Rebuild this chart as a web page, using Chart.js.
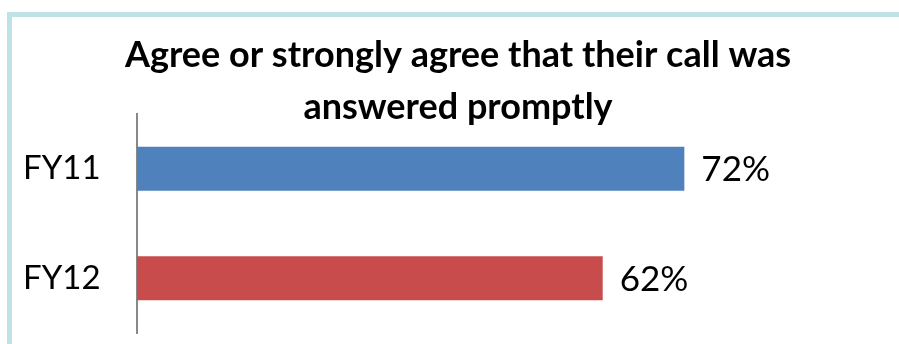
<!DOCTYPE html>
<html>
<head>
<meta charset="utf-8">
<script src="https://cdn.jsdelivr.net/npm/chart.js@4"></script>
<style>
  body { margin: 0; background: #fff; overflow: hidden; }
  #box {
    position: absolute; left: 7px; top: 12px;
    width: 920px; height: 360px;
    border: 5px solid #bfe2e6;
  }
  #wrap { position: relative; width: 887px; height: 327px; }
</style>
</head>
<body>
<div id="box"><div id="wrap"><canvas id="chart"></canvas></div></div>
<script>
// data
let categories = ["FY11", "FY12"]
let values = [72.4, 61.6]
let barColors = ["#4f81bd", "#c94c4c"]
let titleLines = ["Agree or strongly agree that their call was", "answered promptly"]

let fontName = "Lato"

// writes the % labels after the bars
let valueLabels = {
    id: "valueLabels",
    afterDatasetsDraw(chart) {
        let ctx = chart.ctx
        let meta = chart.getDatasetMeta(0)
        ctx.save()
        ctx.font = "35px " + fontName
        ctx.fillStyle = "#000"
        ctx.textAlign = "left"
        ctx.textBaseline = "middle"
        meta.data.forEach((bar, i) => {
            ctx.fillText(Math.round(values[i]) + "%", bar.x + 17, bar.y + 1)
        })
        ctx.restore()
    }
}

let ctx = document.getElementById("chart")
let chart = new Chart(ctx, {
    type: "bar",
    data: {
        labels: categories,
        datasets: [{
            data: values,
            backgroundColor: barColors,
            barPercentage: 0.4,
            categoryPercentage: 1.0
        }]
    },
    plugins: [valueLabels],
    options: {
        responsive: true,
        maintainAspectRatio: false,
        indexAxis: "y",
        animation: false,
        layout: { padding: { left: 11, right: 6, top: 0, bottom: 11 } },
        scales: {
            x: {
                display: false,
                min: 0,
                max: 100
            },
            y: {
                afterFit: function (scale) { scale.width = 114 },
                grid: { display: false, drawTicks: false },
                border: { display: true, color: "#888888", width: 2 },
                ticks: {
                    padding: 0,
                    crossAlign: "far",
                    color: "#000",
                    // small lineHeight so the labels don't push the plot up
                    font: { family: fontName, size: 33, lineHeight: 0.2 }
                }
            }
        },
        plugins: {
            legend: { display: false },
            tooltip: { enabled: false },
            title: {
                display: true,
                text: titleLines,
                color: "#000",
                font: { family: fontName, size: 36, weight: "bold", lineHeight: "52px" },
                padding: { top: 12, bottom: -19 }
            }
        }
    }
})
</script>
</body>
</html>
